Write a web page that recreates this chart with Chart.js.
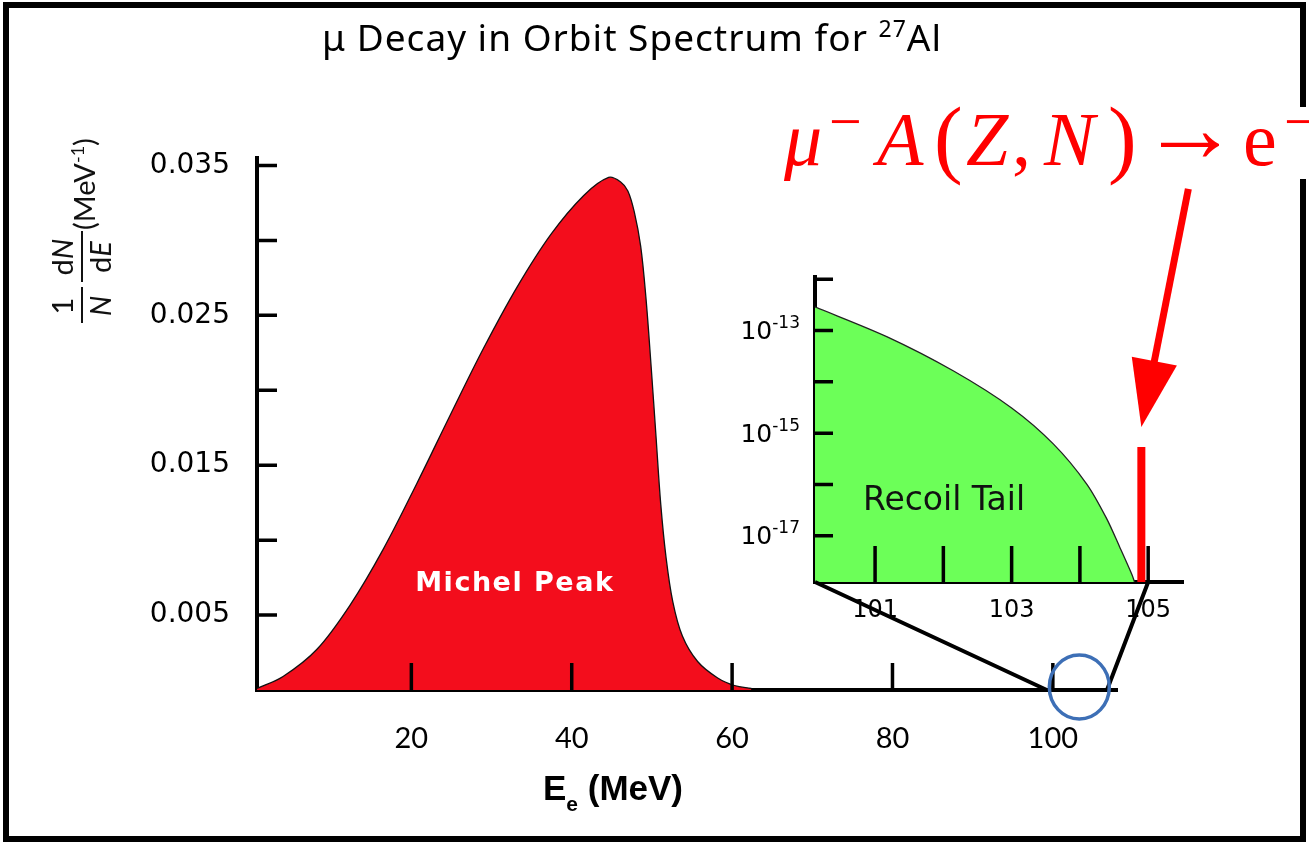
<!DOCTYPE html>
<html>
<head>
<meta charset="utf-8">
<script src="https://cdn.jsdelivr.net/npm/chart.js@4.4.1/dist/chart.umd.min.js"></script>
<style>
  html, body { margin: 0; padding: 0; background: #fff; }
  #wrap { position: relative; width: 1309px; height: 844px; }
  #wrap canvas { position: absolute; left: 0; top: 0; }
</style>
</head>
<body>
<div id="wrap">
  <canvas id="mainChart" width="1309" height="844"></canvas>
  <canvas id="insetChart" width="1309" height="844"></canvas>
</div>
<script>
// Michel peak, main panel (E in MeV, 1/N dN/dE in MeV^-1)
const michelE = [0.75, 4, 8.2, 12.4, 16.5, 20.7, 24.9, 29, 33.2, 37.4, 41.5, 44.6, 46.1, 47.0, 47.8, 48.6, 49.25, 49.9, 50.5, 51.1, 51.75, 52.6, 53.8, 55.7, 58.2, 60.3, 62.4];
const michelY = [0.0001, 0.0009, 0.0027, 0.0057, 0.0094, 0.0138, 0.0184, 0.0228, 0.0269, 0.0304, 0.0330, 0.0342, 0.0339, 0.0333, 0.0319, 0.0296, 0.0262, 0.0216, 0.0170, 0.0124, 0.0089, 0.0059, 0.0036, 0.0019, 0.0008, 0.0003, 0.0001];
const mainXTicks = [20, 40, 60, 80, 100];
const mainXLabels = ['20', '40', '60', '80', '100'];
const mainYTicks = [0.005, 0.010, 0.015, 0.020, 0.025, 0.030, 0.035];
const mainYLabels = ['0.005', '', '0.015', '', '0.025', '', '0.035'];

// recoil tail, inset (log scale)
const tailE = [100.12, 101.17, 102.15, 103.0, 103.61, 104.10, 104.39, 104.59, 104.76, 104.80];
const tailY = [2.88e-13, 7.59e-14, 1.62e-14, 3.09e-15, 6.17e-16, 1.02e-16, 2.19e-17, 5.75e-18, 1.78e-18, 1.26e-18];
const convE = [104.9, 104.9];
const convY = [5.4e-16, 1.26e-18];
const insetXTicks = [101, 102, 103, 104, 105];
const insetXLabels = ['101', '', '103', '', '105'];
const insetYTicks = [1e-12, 1e-13, 1e-14, 1e-15, 1e-16, 1e-17];
const insetYExp = ['', '-13', '', '-15', '', '-17'];

const toXY = (xs, ys) => xs.map((x, i) => ({ x, y: ys[i] }));

function inwardTicks(ctx, scale, values, len, width) {
  ctx.save();
  ctx.strokeStyle = '#000';
  ctx.lineWidth = width;
  ctx.beginPath();
  values.forEach(v => {
    const p = scale.getPixelForValue(v);
    if (scale.isHorizontal()) {
      ctx.moveTo(p, scale.top); ctx.lineTo(p, scale.top - len);
    } else {
      ctx.moveTo(scale.right, p); ctx.lineTo(scale.right + len, p);
    }
  });
  ctx.stroke();
  ctx.restore();
}

// text made of runs (for sub/superscripts)
function runsWidth(ctx, runs) {
  let w = 0;
  runs.forEach(r => { ctx.font = r.font; w += ctx.measureText(r.text).width; });
  return w;
}
function drawRuns(ctx, runs, x, y) {
  runs.forEach(r => {
    ctx.font = r.font;
    ctx.fillText(r.text, x, y + (r.dy || 0));
    x += ctx.measureText(r.text).width;
  });
  return x;
}

const mainDecor = {
  id: 'mainDecor',
  beforeDraw(chart) {
    const ctx = chart.ctx;
    ctx.save();
    ctx.fillStyle = '#fff';
    ctx.fillRect(0, 0, chart.width, chart.height);
    ctx.strokeStyle = '#000';
    ctx.lineWidth = 6;
    ctx.strokeRect(6, 5, 1297, 834);
    ctx.fillStyle = '#fff';
    ctx.fillRect(1294, 107, 15, 72);
    ctx.restore();
  },
  afterDraw(chart) {
    const ctx = chart.ctx;
    const { x, y } = chart.scales;
    inwardTicks(ctx, x, mainXTicks, 27, 3.5);
    inwardTicks(ctx, y, mainYTicks, 20, 3.5);

    ctx.save();
    ctx.fillStyle = '#000';
    ctx.textAlign = 'left';
    ctx.textBaseline = 'alphabetic';

    // title
    ctx.letterSpacing = '1px';
    const title = [
      { text: '\u03bc Decay in Orbit Spectrum for ', font: '37px "Noto Sans"' },
      { text: '27', font: '23px "Noto Sans"', dy: -14 },
      { text: 'Al', font: '37px "Noto Sans"' }
    ];
    drawRuns(ctx, title, 632 - runsWidth(ctx, title) / 2, 51);
    ctx.letterSpacing = '0px';

    // x axis title
    drawRuns(ctx, [
      { text: 'E', font: 'bold 35px "Liberation Sans"' },
      { text: 'e', font: 'bold 21px "Liberation Sans"', dy: 11 },
      { text: ' (MeV)', font: 'bold 35px "Liberation Sans"' }
    ], 543, 800);

    // y axis title, rotated: 1/N dN/dE (MeV^-1)
    ctx.fillStyle = '#111';
    ctx.translate(82, 327);
    ctx.rotate(-Math.PI / 2);
    ctx.textAlign = 'center';
    ctx.font = '29px Lato';
    ctx.fillText('1', 21, -9);
    ctx.font = 'italic 29px Lato';
    ctx.fillText('N', 21, 29);
    ctx.strokeStyle = '#111';
    ctx.lineWidth = 2;
    ctx.beginPath();
    ctx.moveTo(4, 0); ctx.lineTo(40, 0);
    ctx.moveTo(45, 0); ctx.lineTo(96, 0);
    ctx.stroke();
    ctx.textAlign = 'left';
    const num = [{ text: 'd', font: '29px Lato' }, { text: 'N', font: 'italic 29px Lato' }];
    drawRuns(ctx, num, 70 - runsWidth(ctx, num) / 2, -9);
    const den = [{ text: 'd', font: '29px Lato' }, { text: 'E', font: 'italic 29px Lato' }];
    drawRuns(ctx, den, 70 - runsWidth(ctx, den) / 2, 29);
    drawRuns(ctx, [
      { text: '(MeV', font: '29px Lato' },
      { text: '-1', font: '18px Lato', dy: -11 },
      { text: ')', font: '29px Lato' }
    ], 97, 13);
    ctx.restore();

    // Michel Peak label
    ctx.save();
    ctx.fillStyle = '#fff';
    ctx.font = 'bold 27px "DejaVu Sans"';
    ctx.letterSpacing = '1.5px';
    ctx.textAlign = 'center';
    ctx.textBaseline = 'middle';
    ctx.fillText('Michel Peak', x.getPixelForValue(32.9), y.getPixelForValue(0.0071));
    ctx.restore();
  }
};

const mainChart = new Chart(document.getElementById('mainChart'), {
  type: 'line',
  data: {
    datasets: [{
      data: toXY(michelE, michelY),
      borderColor: '#111',
      borderWidth: 1.3,
      backgroundColor: '#f30d1c',
      fill: 'origin',
      pointRadius: 0,
      tension: 0.35
    }]
  },
  options: {
    responsive: false,
    animation: false,
    layout: { padding: { left: 0, right: 192, top: 158, bottom: 0 } },
    plugins: { legend: { display: false }, tooltip: { enabled: false }, title: { display: false } },
    scales: {
      x: {
        type: 'linear', min: 0.75, max: 108, z: 1,
        grid: { display: false, drawTicks: false },
        border: { display: true, color: '#000', width: 4 },
        afterBuildTicks: s => { s.ticks = mainXTicks.map(v => ({ value: v })); },
        afterFit: s => { s.height = 154; },
        ticks: {
          autoSkip: false, maxRotation: 0, padding: 31, color: '#000',
          font: { family: 'Lato', size: 29 },
          callback: (v, i) => mainXLabels[i]
        }
      },
      y: {
        type: 'linear', min: 0, max: 0.0355, z: 1,
        grid: { display: false, drawTicks: false },
        border: { display: true, color: '#000', width: 4 },
        afterBuildTicks: s => { s.ticks = mainYTicks.map(v => ({ value: v })); },
        afterFit: s => { s.width = 257; },
        ticks: {
          autoSkip: false, padding: 27, color: '#000',
          font: { family: 'DejaVu Sans', size: 28 },
          callback: (v, i) => mainYLabels[i]
        }
      }
    }
  },
  plugins: [mainDecor]
});

const insetDecor = {
  id: 'insetDecor',
  afterDraw(chart) {
    const ctx = chart.ctx;
    const xi = chart.scales.x, yi = chart.scales.y;
    const xm = mainChart.scales.x, ym = mainChart.scales.y;
    inwardTicks(ctx, xi, insetXTicks, 36, 3.5);
    inwardTicks(ctx, yi, insetYTicks, 18, 3.5);

    ctx.save();
    ctx.fillStyle = '#000';
    ctx.textBaseline = 'middle';
    // decade labels 10^n on the log axis
    ctx.textAlign = 'left';
    insetYTicks.forEach((v, i) => {
      if (!insetYExp[i]) return;
      const runs = [
        { text: '10', font: '25px "DejaVu Sans"' },
        { text: insetYExp[i], font: '17px "DejaVu Sans"', dy: -9 }
      ];
      drawRuns(ctx, runs, 800 - runsWidth(ctx, runs), yi.getPixelForValue(v) + 2);
    });

    ctx.fillStyle = '#111';
    ctx.font = '33px "DejaVu Sans"';
    ctx.textAlign = 'center';
    ctx.fillText('Recoil Tail', xi.getPixelForValue(102.01), yi.getPixelForValue(4.7e-17));

    // zoom lines from the inset down to the main axis
    const bottom = chart.chartArea.bottom;
    const y0 = ym.getPixelForValue(0);
    ctx.strokeStyle = '#000';
    ctx.lineWidth = 4;
    ctx.beginPath();
    ctx.moveTo(chart.chartArea.left, bottom);
    ctx.lineTo(xm.getPixelForValue(99.25), y0);
    ctx.moveTo(xi.getPixelForValue(105), bottom);
    ctx.lineTo(xm.getPixelForValue(106.75), y0);
    ctx.stroke();

    // circle on the main axis
    ctx.strokeStyle = '#3d6fb6';
    ctx.lineWidth = 3.5;
    ctx.beginPath();
    ctx.ellipse(xm.getPixelForValue(103.3), y0 - 3, 30, 32, 0, 0, Math.PI * 2);
    ctx.stroke();

    // red arrow pointing at the conversion line
    const tipX = xi.getPixelForValue(convE[0]);
    const tipY = yi.getPixelForValue(convY[0]) - 20;
    const sx = tipX + 47, sy = tipY - 238;
    const len = Math.hypot(tipX - sx, tipY - sy);
    const ux = (tipX - sx) / len, uy = (tipY - sy) / len;
    const bx = tipX - ux * 67, by = tipY - uy * 67;
    ctx.strokeStyle = '#ff0000';
    ctx.fillStyle = '#ff0000';
    ctx.lineWidth = 7;
    ctx.beginPath();
    ctx.moveTo(sx, sy); ctx.lineTo(bx + ux * 2, by + uy * 2);
    ctx.stroke();
    ctx.beginPath();
    ctx.moveTo(tipX, tipY);
    ctx.lineTo(bx - uy * 23, by + ux * 23);
    ctx.lineTo(bx + uy * 23, by - ux * 23);
    ctx.closePath();
    ctx.fill();

    // formula
    ctx.textAlign = 'left';
    ctx.textBaseline = 'alphabetic';
    const it = 'italic 76px "Liberation Serif"', rm = '76px "Liberation Serif"';
    const pr = '86px "Liberation Serif"', sup = '58px "Liberation Serif"';
    const glyphs = [
      ['\u03bc', it, 784, 165], ['\u2212', sup, 829, 141],
      ['A', it, 877, 165], ['(', pr, 934, 167], ['Z', it, 966, 165], [',', rm, 1012, 165],
      ['N', it, 1044, 165], [')', pr, 1108, 167], ['\u2192', '98px "Liberation Serif"', 1141, 161],
      ['e', rm, 1243, 165], ['\u2212', sup, 1284, 141]
    ];
    glyphs.forEach(([t, f, gx, gy]) => { ctx.font = f; ctx.fillText(t, gx, gy); });
    ctx.restore();
  }
};

new Chart(document.getElementById('insetChart'), {
  type: 'line',
  data: {
    datasets: [{
      data: toXY(tailE, tailY),
      borderColor: '#222',
      borderWidth: 1.3,
      backgroundColor: '#6cff58',
      fill: 'start',
      pointRadius: 0,
      tension: 0.3
    }, {
      data: toXY(convE, convY),
      borderColor: '#ff0000',
      borderWidth: 8,
      borderCapStyle: 'butt',
      fill: false,
      pointRadius: 0
    }]
  },
  options: {
    responsive: false,
    animation: false,
    layout: { padding: { left: 715, right: 126, top: 277, bottom: 202 } },
    plugins: { legend: { display: false }, tooltip: { enabled: false } },
    scales: {
      x: {
        type: 'linear', min: 100.12, max: 105.51, z: 1,
        grid: { display: false, drawTicks: false },
        border: { display: true, color: '#000', width: 4 },
        afterBuildTicks: s => { s.ticks = insetXTicks.map(v => ({ value: v })); },
        afterFit: s => { s.height = 60; },
        ticks: {
          autoSkip: false, maxRotation: 0, padding: 14, color: '#000',
          font: { family: 'DejaVu Sans', size: 24 },
          callback: (v, i) => insetXLabels[i]
        }
      },
      y: {
        type: 'logarithmic', min: 1.26e-18, max: 1.1e-12, z: 1,
        grid: { display: false, drawTicks: false },
        border: { display: true, color: '#000', width: 4 },
        afterBuildTicks: s => { s.ticks = insetYTicks.map(v => ({ value: v })); },
        afterFit: s => { s.width = 100; },
        ticks: { display: false }
      }
    }
  },
  plugins: [insetDecor]
});
</script>
</body>
</html>
